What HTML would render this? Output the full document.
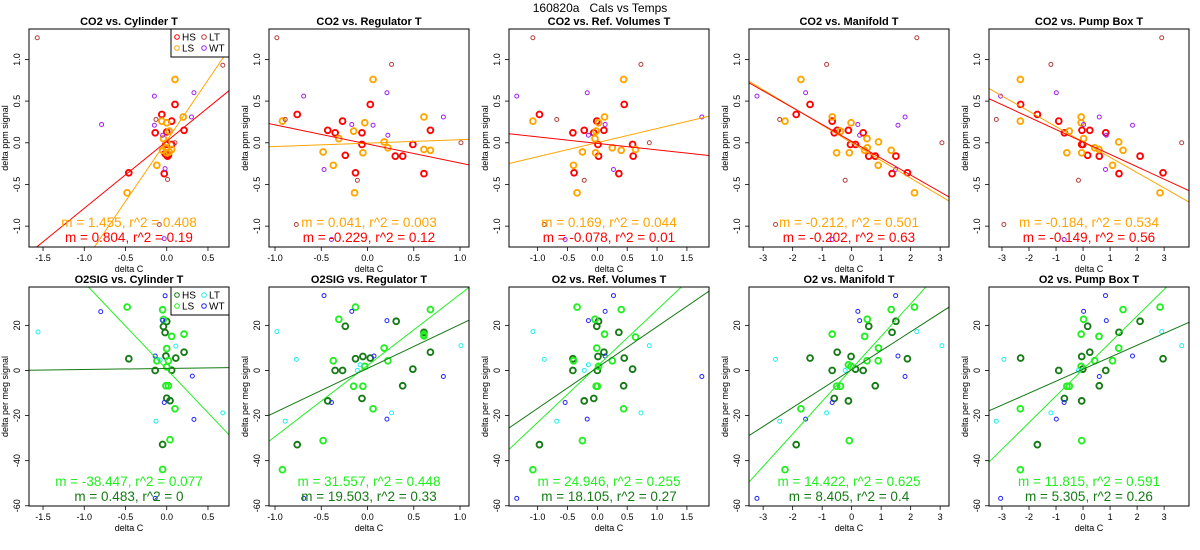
<!DOCTYPE html>
<html><head><meta charset="utf-8"><style>
html,body{margin:0;padding:0;background:#fff;}
svg{display:block;font-family:"Liberation Sans",Arial,sans-serif;}
</style></head><body>
<svg id="chart" width="1200" height="550" viewBox="0 0 1200 550" xmlns="http://www.w3.org/2000/svg">
<rect x="0" y="0" width="1200" height="550" fill="#fff"/>
<text x="600" y="12" text-anchor="middle" font-size="12" style="white-space:pre" xml:space="preserve">160820a   Cals vs Temps</text>
</svg>
<script>
// ---------- data: CO2 panels (x = delta C, y = delta ppm) ----------
const p1_hs_x=[-0.46,-0.14,-0.06,0.06,0.10,0.21,0.06,-0.03,0.0,-0.02,0.02,0.0,0.01,-0.01];
const p1_hs_y=[-0.36,0.12,0.34,0.26,0.46,0.15,-0.02,-0.37,-0.15,-0.13,-0.15,0.13,-0.16,-0.02];
const p1_ls_x=[-0.48,-0.12,0.10,0.20,-0.06,0.0,0.03,-0.04,0.0,-0.05,0.06,0.0,0.03,-0.01];
const p1_ls_y=[-0.60,-0.27,0.76,0.31,0.26,0.24,0.14,0.05,0.0,-0.09,-0.08,-0.12,-0.11,-0.06];
const p1_lt_x=[-1.57,0.68,-0.13,0.10,-0.09,0.01];
const p1_lt_y=[1.26,0.93,0.28,0.0,-0.98,-0.44];
const p1_wt_x=[-0.79,-0.15,-0.15,0.33,0.30,-0.05,-0.02,-0.03];
const p1_wt_y=[0.22,0.56,0.21,0.60,0.31,0.09,-0.31,-1.15];

const p2_hs_x=[-0.76,-0.43,-0.35,-0.27,-0.06,-0.06,-0.24,-0.13,0.03,0.30,0.38,0.49,0.61,0.68];
const p2_hs_y=[0.34,0.15,0.12,0.26,0.12,-0.02,-0.15,-0.36,0.46,-0.16,-0.16,-0.02,-0.37,0.15];
const p2_ls_x=[-0.92,-0.48,-0.37,-0.31,-0.15,-0.03,-0.05,0.06,-0.14,0.18,0.22,0.61,0.61,0.68];
const p2_ls_y=[0.26,-0.11,-0.27,0.05,0.14,0.24,-0.12,0.76,-0.60,0.01,-0.06,0.31,-0.08,-0.09];
const p2_lt_x=[-0.98,0.26,-0.89,-0.77,-0.11,1.01];
const p2_lt_y=[1.26,0.94,0.28,-0.98,-0.45,0.0];
const p2_wt_x=[-0.69,-0.17,0.06,0.21,0.22,0.82,-0.47,-0.39];
const p2_wt_y=[0.56,0.22,0.21,0.60,0.09,0.31,-0.32,-1.16];

const p3_hs_x=[-0.97,-0.41,-0.22,-0.39,-0.06,-0.01,0.01,0.02,0.11,0.36,0.60,0.45,0.59];
const p3_hs_y=[0.34,0.12,0.15,-0.36,0.12,0.26,-0.02,-0.16,0.15,-0.37,-0.16,0.46,-0.02];
const p3_ls_x=[-1.08,-0.25,-0.40,-0.34,-0.04,-0.02,0.02,0.12,-0.03,0.25,0.40,0.64,0.44];
const p3_ls_y=[0.26,-0.11,-0.27,-0.60,0.05,0.14,0.24,0.31,-0.12,-0.06,-0.09,-0.08,0.76];
const p3_lt_x=[-1.08,0.73,-0.68,0.87,-0.89,-0.22];
const p3_lt_y=[1.26,0.94,0.28,0.0,-0.98,-0.45];
const p3_wt_x=[-1.35,-0.17,-0.15,0.13,0.27,1.75,-0.54];
const p3_wt_y=[0.56,0.60,0.09,0.22,-0.32,0.31,-1.16];

const p4_hs_x=[-1.88,-1.41,-0.66,-0.59,-0.49,-0.11,-0.04,0.13,0.39,0.58,0.80,1.37,1.50,1.89];
const p4_hs_y=[0.34,0.46,0.26,0.12,0.15,0.15,-0.02,-0.02,0.12,-0.16,-0.16,-0.37,-0.16,-0.36];
const p4_ls_x=[-1.72,-2.26,-0.66,-0.38,-0.51,-0.08,-0.02,0.44,0.52,0.53,0.91,0.90,1.34,2.13];
const p4_ls_y=[0.76,0.26,0.31,0.14,-0.12,-0.12,0.24,-0.09,0.05,-0.06,0.01,-0.27,-0.09,-0.60];
const p4_lt_x=[2.21,-0.85,-2.44,3.06,-2.58,-0.22];
const p4_lt_y=[1.26,0.94,0.28,0.0,-0.98,-0.45];
const p4_wt_x=[-3.21,-1.56,0.21,0.27,1.57,1.81,1.49,-0.66];
const p4_wt_y=[0.56,0.60,0.22,0.09,0.21,0.31,-0.32,-1.16];

const p5_hs_x=[-2.31,-1.69,-0.90,-0.69,-0.04,-0.05,-0.01,0.17,0.25,0.60,0.84,1.33,2.11,2.96];
const p5_hs_y=[0.46,0.34,0.26,0.12,0.15,-0.02,-0.02,-0.15,0.15,-0.16,0.12,-0.37,-0.16,-0.36];
const p5_ls_x=[-2.32,-2.32,-0.60,-0.51,-0.07,-0.07,-0.05,0.02,0.43,0.59,1.09,1.32,1.48,2.85];
const p5_ls_y=[0.76,0.26,-0.12,0.14,0.31,0.24,-0.12,0.05,-0.06,-0.08,-0.27,0.01,-0.09,-0.60];
const p5_lt_x=[2.91,-1.19,-3.21,3.65,-2.93,-0.17];
const p5_lt_y=[1.26,0.94,0.28,0.0,-0.98,-0.45];
const p5_wt_x=[-3.05,-0.99,0.02,0.60,0.86,1.83,0.83,-0.70];
const p5_wt_y=[0.56,0.60,0.22,0.31,0.09,0.21,-0.32,-1.16];

// ---------- data: O2 panels (x = delta C, y = delta per meg) ----------
const p6_hs_x=[-0.46,-0.14,-0.04,-0.02,0.0,-0.01,0.11,0.21,0.06,0.0,0.04,-0.05];
const p6_hs_y=[5.2,0,19.5,16.8,21.7,6.4,5.5,8.1,0.1,-12.3,-13.4,-32.8];
const p6_ls_x=[-0.48,-0.05,0.21,0.06,0.0,-0.12,0.02,0.0,-0.01,0.02,0.10,0.04,-0.05,-0.04];
const p6_ls_y=[28.1,26.9,16.1,15.1,9.7,4.3,4.3,1.6,-6.8,-6.8,-17,-30.7,-43.9,22.6];
const p6_lt_x=[-1.56,0.11,-0.08,-0.13,0.68];
const p6_lt_y=[17.1,10.8,4.6,-22.5,-18.8];
const p6_wt_x=[-0.80,-0.02,-0.05,-0.14,0.31,-0.03,0.33,-0.14];
const p6_wt_y=[26.1,33.1,22.2,6.4,-2.5,-14.2,-21.7,-56.7];

const p7_hs_x=[-0.76,-0.43,-0.35,-0.27,-0.24,-0.13,-0.05,-0.06,0.03,0.31,0.38,0.49,0.61,0.68];
const p7_hs_y=[-32.9,-13.5,0,0,19.6,5.2,6.2,-12.4,5.5,21.8,-6.8,0.6,16.9,8.1];
const p7_ls_x=[-0.92,-0.48,-0.37,-0.31,-0.15,-0.13,-0.05,-0.03,0.06,0.18,0.22,0.61,0.68,0.61];
const p7_ls_y=[-44,-31.1,4.3,22.7,-7,28.1,-7,1.8,-17,9.9,4.3,15.3,27,16];
const p7_lt_x=[-0.98,-0.77,-0.89,-0.11,-0.08,0.26,1.01];
const p7_lt_y=[17.2,4.9,-22.5,0,2.5,-18.8,11];
const p7_wt_x=[-0.47,-0.17,0.21,0.07,0.82,-0.39,0.21,-0.69];
const p7_wt_y=[33.2,26.2,22.1,6.4,-2.7,-14.2,-21.6,-56.7];

const p8_hs_x=[-0.97,-0.41,-0.41,-0.22,-0.06,-0.01,0.02,0.01,0.0,0.11,0.36,0.45,0.44,0.59];
const p8_hs_y=[-32.9,5.2,0,-13.5,-12.4,19.6,21.8,6.2,0,8.1,16.9,5.5,-6.8,0.6];
const p8_ls_x=[-1.08,-0.40,-0.34,-0.25,-0.04,-0.02,-0.01,0.0,0.02,0.12,0.25,0.44,0.40,0.64];
const p8_ls_y=[-44,4.3,28.1,-31.1,22.7,-7,9.9,-7,1.8,16.1,4.3,-17,27,14.8];
const p8_lt_x=[-1.08,-0.89,-0.68,-0.22,-0.15,0.73,0.87];
const p8_lt_y=[17.2,4.9,-22.5,0,2.5,-18.8,11];
const p8_wt_x=[-1.35,-0.54,-0.17,-0.15,0.13,0.13,0.27,1.75];
const p8_wt_y=[-56.7,-14.2,-21.6,22.1,26.2,6.4,33.2,-2.7];

const p9_hs_x=[-1.88,-1.41,-0.66,-0.59,-0.49,-0.11,-0.02,0.13,0.39,0.58,0.80,1.37,1.50,1.89];
const p9_hs_y=[-32.9,5.5,0,-12.4,8.1,-13.5,6.2,0.6,0,19.6,-6.8,16.9,21.8,5.2];
const p9_ls_x=[-2.26,-1.72,-0.66,-0.51,-0.38,-0.08,-0.11,-0.02,0.44,0.52,0.53,0.91,0.90,1.34,2.13];
const p9_ls_y=[-44,-17,16.1,-7,-7,-31.1,2.5,1.8,15.1,4.3,22.7,9.9,4.3,27,28.1];
const p9_lt_x=[-2.58,-2.44,-0.85,-0.22,2.21,3.06];
const p9_lt_y=[4.9,-22.5,-18.8,0,17.2,11];
const p9_wt_x=[-3.21,-1.56,-0.66,0.21,0.27,1.49,1.57,1.81];
const p9_wt_y=[-56.7,-21.6,-14.2,26.2,22.1,33.2,6.4,-2.7];

const p10_hs_x=[-2.31,-1.69,-0.90,-0.69,-0.05,-0.05,-0.01,0.17,0.25,0.60,0.84,1.33,2.11,2.96];
const p10_hs_y=[5.5,-32.9,0,-12.4,6.2,-13.5,0.6,19.6,8.1,-6.8,0,16.9,21.8,5.2];
const p10_ls_x=[-2.32,-2.32,-0.60,-0.51,-0.07,-0.07,-0.05,0.02,0.43,0.59,1.09,1.32,1.48,2.85];
const p10_ls_y=[-17,-44,-7,-7,16.1,1.8,-31.1,22.7,4.3,15.1,4.3,9.9,27,28.1];
const p10_lt_x=[-3.21,-2.93,-1.19,-0.17,2.91,3.65];
const p10_lt_y=[-22.5,4.9,-18.8,0,17.2,11];
const p10_wt_x=[-3.05,-0.99,-0.70,0.02,0.60,0.83,0.86,1.83];
const p10_wt_y=[-56.7,-21.6,-14.2,26.2,-2.7,33.2,22.1,6.4];

// ---------- fit lines (slope, intercept) ----------
const fitSlopeA=[1.455,0.041,0.169,-0.212,-0.184,-38.447,31.557,24.946,14.422,11.815];
const fitInterA=[0.025,-0.004,0.002,0.0,0.01,0.5,2.2,1.9,0.7,0.5];
const fitSlopeB=[0.804,-0.229,-0.078,-0.202,-0.149,0.483,19.503,18.105,8.405,5.305];
const fitInterB=[0.018,-0.014,-0.007,0.017,0.01,0.9,0.9,1.3,0.35,0.55];
const fitLabelA=["m = 1.455, r^2 = 0.408","m = 0.041, r^2 = 0.003","m = 0.169, r^2 = 0.044","m = -0.212, r^2 = 0.501","m = -0.184, r^2 = 0.534","m = -38.447, r^2 = 0.077","m = 31.557, r^2 = 0.448","m = 24.946, r^2 = 0.255","m = 14.422, r^2 = 0.625","m = 11.815, r^2 = 0.591"];
const fitLabelB=["m = 0.804, r^2 = 0.19","m = -0.229, r^2 = 0.12","m = -0.078, r^2 = 0.01","m = -0.202, r^2 = 0.63","m = -0.149, r^2 = 0.56","m = 0.483, r^2 = 0","m = 19.503, r^2 = 0.33","m = 18.105, r^2 = 0.27","m = 8.405, r^2 = 0.4","m = 5.305, r^2 = 0.26"];
const panelTitles=["CO2 vs. Cylinder T","CO2 vs. Regulator T","CO2 vs. Ref. Volumes T","CO2 vs. Manifold T","CO2 vs. Pump Box T","O2SIG vs. Cylinder T","O2SIG vs. Regulator T","O2 vs. Ref. Volumes T","O2 vs. Manifold T","O2 vs. Pump Box T"];
const xTicksSmall=[-1.5,-1.0,-0.5,0.0,0.5];
const xTicksReg=[-1.0,-0.5,0.0,0.5,1.0];
const xTicksRef=[-1.0,-0.5,0.0,0.5,1.0,1.5];
const xTicksWide=[-3,-2,-1,0,1,2,3];
const yTicksCO2=[-1.0,-0.5,0.0,0.5,1.0];
const yTicksO2=[-60,-40,-20,0,20];
const legendTop=["HS","LT","LS","WT"];

const dataSets=[
 [p1_hs_x,p1_hs_y,p1_ls_x,p1_ls_y,p1_lt_x,p1_lt_y,p1_wt_x,p1_wt_y],
 [p2_hs_x,p2_hs_y,p2_ls_x,p2_ls_y,p2_lt_x,p2_lt_y,p2_wt_x,p2_wt_y],
 [p3_hs_x,p3_hs_y,p3_ls_x,p3_ls_y,p3_lt_x,p3_lt_y,p3_wt_x,p3_wt_y],
 [p4_hs_x,p4_hs_y,p4_ls_x,p4_ls_y,p4_lt_x,p4_lt_y,p4_wt_x,p4_wt_y],
 [p5_hs_x,p5_hs_y,p5_ls_x,p5_ls_y,p5_lt_x,p5_lt_y,p5_wt_x,p5_wt_y],
 [p6_hs_x,p6_hs_y,p6_ls_x,p6_ls_y,p6_lt_x,p6_lt_y,p6_wt_x,p6_wt_y],
 [p7_hs_x,p7_hs_y,p7_ls_x,p7_ls_y,p7_lt_x,p7_lt_y,p7_wt_x,p7_wt_y],
 [p8_hs_x,p8_hs_y,p8_ls_x,p8_ls_y,p8_lt_x,p8_lt_y,p8_wt_x,p8_wt_y],
 [p9_hs_x,p9_hs_y,p9_ls_x,p9_ls_y,p9_lt_x,p9_lt_y,p9_wt_x,p9_wt_y],
 [p10_hs_x,p10_hs_y,p10_ls_x,p10_ls_y,p10_lt_x,p10_lt_y,p10_wt_x,p10_wt_y]
];
const xTickSets=[xTicksSmall,xTicksReg,xTicksRef,xTicksWide,xTicksWide];
const xDomains=[[-1.67,0.755],[-1.065,1.097],[-1.48,1.87],[-3.48,3.3],[-3.48,3.92]];
const boxLefts=[29,269,509,749,989];

const NS="http://www.w3.org/2000/svg";
const svg=document.getElementById('chart');
function mk(tag,attrs,parent){const e=document.createElementNS(NS,tag);for(const k in attrs)e.setAttribute(k,attrs[k]);(parent||svg).appendChild(e);return e;}
function fmt(v,dec){return dec?v.toFixed(1):String(v);}

const colsTop=["#ff0000","#ffa500","#b4403c","#a020f0"];
const colsBot=["#157a15","#22ee22","#22eeee","#2222ff"];
const groupNames=["hs","ls","lt","wt"];

for(let p=0;p<10;p++){
  const row=p<5?0:1, col=p%5;
  const L=boxLefts[col], R=L+200;
  const T=row===0?29:287, B=row===0?247:506;
  const xd=xDomains[col];
  const yd=row===0?[-1.25,1.365]:[-60.1,37.0];
  const sx=v=>L+(v-xd[0])/(xd[1]-xd[0])*(R-L);
  const sy=v=>B-(v-yd[0])/(yd[1]-yd[0])*(B-T);
  const g=mk('g',{});
  
  
  const cid='clip'+p;
  const cp=mk('clipPath',{id:cid},g);mk('rect',{x:L,y:T,width:R-L,height:B-T},cp);
  const t=mk('text',{x:(L+R)/2,y:T-4,'text-anchor':'middle','font-size':'11','font-weight':'bold'},g);
  t.textContent=panelTitles[p];
  
  
  const xt=xTickSets[col], dec=col<3;
  xt.forEach(v=>{
    const x=sx(v);
    mk('line',{x1:x,y1:B,x2:x,y2:B+4,stroke:'#000','stroke-width':0.8},g);
    const tl=mk('text',{x:x,y:B+14,'text-anchor':'middle','font-size':'9'},g);
    tl.textContent=fmt(v,dec);
    
    
  });
  const xl=mk('text',{x:(L+R)/2,y:B+25,'text-anchor':'middle','font-size':'9'},g);
  xl.textContent='delta C';
  
  
  const yt=row===0?yTicksCO2:yTicksO2;
  yt.forEach(v=>{
    const y=sy(v);
    mk('line',{x1:L-4,y1:y,x2:L,y2:y,stroke:'#000','stroke-width':0.8},g);
    const tl=mk('text',{x:L-9,y:y,'text-anchor':'middle','font-size':'9',transform:`rotate(-90 ${L-9} ${y})`},g);
    tl.textContent=fmt(v,row===0);
    
    
  });
  const yl=mk('text',{x:L-21,y:(T+B)/2,'text-anchor':'middle','font-size':'9',transform:`rotate(-90 ${L-21} ${(T+B)/2})`},g);
  yl.textContent=row===0?'delta ppm signal':'delta per meg signal';
  
  
  const cols=row===0?colsTop:colsBot;
  const ds=dataSets[p];
  const pg=mk('g',{'clip-path':`url(#${cid})`},g);
  for(let k=0;k<4;k++){
    const xs=ds[2*k], ys=ds[2*k+1];
    const thick=k<2;
    for(let i=0;i<xs.length;i++){
      const c=mk('circle',{cx:sx(xs[i]),cy:sy(ys[i]),r:thick?2.9:2.0,fill:'none',stroke:cols[k],'stroke-width':thick?1.9:1.0},pg);
      
      
    }
  }
  const lineCols=row===0?["#ffa500","#ff0000"]:["#22ee22","#157a15"];
  [[fitSlopeA[p],fitInterA[p]],[fitSlopeB[p],fitInterB[p]]].forEach((f,j)=>{
    const ln=mk('line',{x1:sx(xd[0]),y1:sy(f[1]+f[0]*xd[0]),x2:sx(xd[1]),y2:sy(f[1]+f[0]*xd[1]),stroke:lineCols[j],'stroke-width':1},pg);
    
    
  });
  mk('rect',{x:L,y:T,width:R-L,height:B-T,fill:'none',stroke:'#000','stroke-width':1},g);
  const la=mk('text',{x:(L+R)/2,y:row===0?227:486,'text-anchor':'middle','font-size':'13.5',fill:lineCols[0]},g);
  la.textContent=fitLabelA[p];
  
  
  const lb=mk('text',{x:(L+R)/2,y:row===0?242:501,'text-anchor':'middle','font-size':'13.5',fill:lineCols[1]},g);
  lb.textContent=fitLabelB[p];
  
  
  if(col===0){
    const lg=mk('g',{},g);
    
    
    mk('rect',{x:R-58,y:T,width:58,height:28,fill:'#fff',stroke:'#000','stroke-width':1},lg);
    const order=[0,2,1,3];
    legendTop.forEach((name,i)=>{
      const cx=R-52+(i%2)*27, cy=T+8+Math.floor(i/2)*11;
      const k=order[i];
      const e=mk('g',{},lg);
      
      
      mk('circle',{cx:cx,cy:cy,r:2.3,fill:'none',stroke:cols[k],'stroke-width':1},e);
      const tx=mk('text',{x:cx+5,y:cy+3.5,'font-size':'10'},e);
      tx.textContent=name;
    });
  }
}
</script>
</body></html>
